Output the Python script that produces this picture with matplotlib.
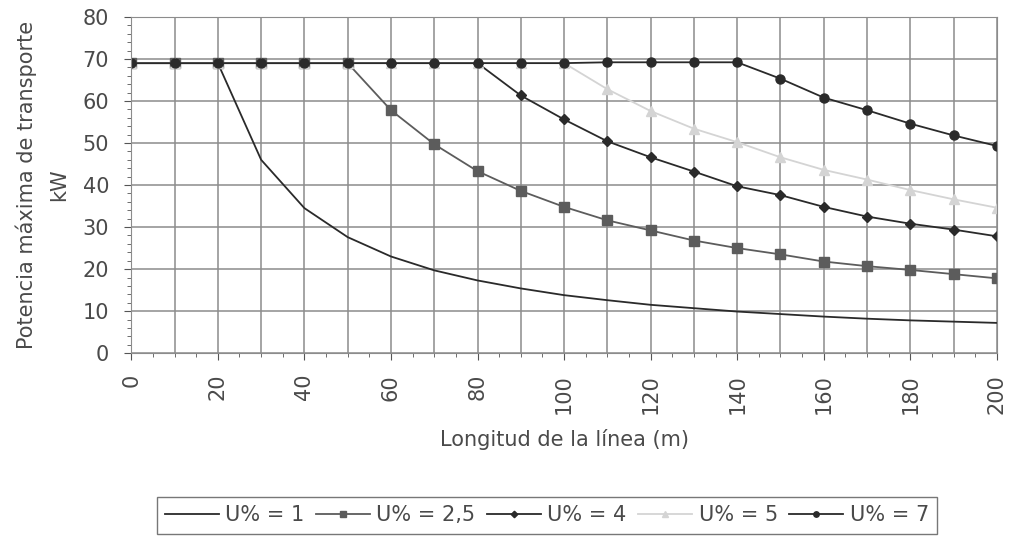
import numpy as np
import matplotlib
matplotlib.use("Agg")
import matplotlib.pyplot as plt
from matplotlib.ticker import MultipleLocator

plt.rcParams['font.family'] = ['DejaVu Sans']

# Longitud de la linea (m)
longitud = [0, 10, 20, 30, 40, 50, 60, 70, 80, 90, 100,
            110, 120, 130, 140, 150, 160, 170, 180, 190, 200]

# Potencia maxima (kW) para cada caida de tension
u_1 = [69, 69, 69, 46, 34.5, 27.6, 23, 19.7, 17.3, 15.4, 13.8,
       12.6, 11.5, 10.7, 9.9, 9.3, 8.7, 8.2, 7.8, 7.5, 7.2]
u_2_5 = [69, 69, 69, 69, 69, 69, 57.8, 49.7, 43.3, 38.6, 34.8,
         31.6, 29.2, 26.8, 25, 23.5, 21.8, 20.7, 19.8, 18.8, 17.8]
u_4 = [69, 69, 69, 69, 69, 69, 69, 69, 69, 61.3, 55.6,
       50.4, 46.6, 43.2, 39.7, 37.6, 34.8, 32.5, 30.8, 29.4, 27.8]
u_5 = [69, 69, 69, 69, 69, 69, 69, 69, 69, 69, 69,
       62.8, 57.6, 53.4, 50.2, 46.6, 43.6, 41.3, 38.8, 36.6, 34.6]
u_7 = [69, 69, 69, 69, 69, 69, 69, 69, 69, 69, 69,
       69.2, 69.2, 69.2, 69.2, 65.3, 60.8, 57.8, 54.6, 51.8, 49.3]

labels = ['U% = 1', 'U% = 2,5', 'U% = 4', 'U% = 5', 'U% = 7']

fig = plt.figure(figsize=(10.1, 5.45), dpi=100)
ax = fig.add_axes([0.130, 0.352, 0.857, 0.617])

text_col = '#4a4a4a'
ax.plot(longitud, u_1, color='#2a2a2a', lw=1.3, label=labels[0])
ax.plot(longitud, u_2_5, color='#5c5c5c', lw=1.3, marker='s', ms=6.5, label=labels[1])
ax.plot(longitud, u_4, color='#2a2a2a', lw=1.3, marker='D', ms=5.5, label=labels[2])
ax.plot(longitud, u_5, color='#d4d4d4', lw=1.3, marker='^', ms=6.5, label=labels[3])
ax.plot(longitud, u_7, color='#2a2a2a', lw=1.3, marker='o', ms=6.5, label=labels[4])

ax.set_xlim(0, 200)
ax.set_ylim(0, 80)
ax.xaxis.set_major_locator(MultipleLocator(20))
ax.xaxis.set_minor_locator(MultipleLocator(5))
ax.yaxis.set_major_locator(MultipleLocator(10))
ax.yaxis.set_minor_locator(MultipleLocator(2))

# rejilla cada 10
for xv in range(0, 201, 10):
    ax.axvline(xv, color='#8c8c8c', lw=1.1, zorder=0)
for yv in range(0, 81, 10):
    ax.axhline(yv, color='#8c8c8c', lw=1.1, zorder=0)

for s in ax.spines.values():
    s.set_color('#8c8c8c')

ax.tick_params(axis='both', which='major', length=5, color='#555555',
               labelsize=15, labelcolor=text_col)
ax.tick_params(axis='y', which='major', pad=11)
ax.tick_params(axis='x', which='major', pad=10)
ax.tick_params(axis='both', which='minor', length=3, color='#555555')
plt.setp(ax.get_xticklabels(), rotation=90)

ax.set_xlabel('Longitud de la línea (m)', fontsize=15, color=text_col, va='top')
ax.xaxis.set_label_coords(0.5, -0.225)
ax.set_ylabel('Potencia máxima de transporte\nkW', fontsize=15, color=text_col,
              linespacing=1.75)
ax.yaxis.set_label_coords(-0.072, 0.5)

leg = fig.legend(loc='upper left', bbox_to_anchor=(0.155, 0.088), ncol=5,
                 frameon=True, fancybox=False, fontsize=15, handlelength=2.6,
                 handletextpad=0.3, columnspacing=0.55, borderpad=0.4,
                 borderaxespad=0, markerscale=0.6)
leg.get_frame().set_edgecolor('#555555')
leg.get_frame().set_linewidth(1.0)
for t in leg.get_texts():
    t.set_color(text_col)

fig.savefig('out.png', dpi=100)
